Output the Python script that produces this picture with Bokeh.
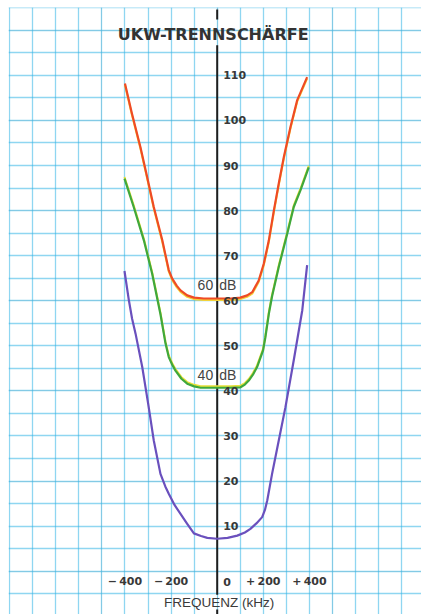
from bokeh.plotting import figure
from bokeh.models import FixedTicker, Grid, Label, ColumnDataSource
from bokeh.transform import dodge
from bokeh.core.properties import value
from bokeh.embed import file_html
from bokeh.resources import INLINE

# ---- data ----
title_text = "UKW-TRENNSCHÄRFE"
x_title = "FREQUENZ (kHz)"

red_khz = [-400, -370, -333, -304, -275, -238, -210, -195, -175, -159, -130, -100, -58, 0,
           60, 100, 130, 152, 180, 202, 224, 246, 267, 289, 318, 347, 390]
red_db = [108.2, 101.6, 94.1, 87.5, 80.8, 73.4, 66.8, 64.9, 63.3, 62.3, 61.2, 60.7, 60.5, 60.5,
          60.5, 60.7, 61.2, 61.9, 64.5, 68.2, 73.4, 80.1, 86.0, 91.9, 98.6, 104.5, 109.6]

green_khz = [-402, -362, -318, -282, -246, -224, -210, -195, -181, -155, -130, -100, -72, 0,
             60, 101, 120, 137, 155, 173, 199, 209, 224, 238, 267, 304, 332, 361, 397]
green_db = [87.1, 80.8, 73.4, 66.0, 57.0, 50.5, 47.5, 45.8, 44.5, 42.7, 41.6, 41.0, 40.7, 40.7,
            40.7, 40.8, 41.4, 42.3, 43.6, 45.3, 49.0, 51.9, 57.1, 61.0, 67.5, 74.9, 80.8, 84.5, 89.6]

blue_khz = [-402, -383, -369, -354, -325, -297, -275, -246, -225, -210, -185, -159, -130, -101,
            -70, -43, 0, 45, 87, 120, 144, 170, 195, 207, 217, 238, 267, 296, 332, 369, 390]
blue_db = [66.6, 60.1, 56.0, 52.7, 45.3, 36.4, 29.0, 21.6, 18.8, 17.2, 14.7, 12.7, 10.5, 8.4,
           7.8, 7.4, 7.2, 7.4, 7.9, 8.6, 9.4, 10.6, 12.0, 13.6, 15.7, 21.6, 29.0, 36.4, 46.8, 57.9, 67.9]

y_ticks = [10, 20, 30, 40, 50, 60, 70, 80, 90, 100, 110]
y_tick_labels = [str(v) for v in y_ticks]
x_ticks = [-400, -200, 200, 400]
x_tick_labels = ["\u2212\u2009400", "\u2212\u2009200", "+\u2009200", "+\u2009400"]
zero_label = "0"
level_values = [60, 40]
level_numbers = ["60", "40"]
level_unit = ["dB", "dB"]

grid_x = list(range(-900, 901, 100))
grid_y = list(range(-5, 126, 5))

# ---- figure ----
p = figure(width=421, height=614, x_range=(-905, 886), y_range=(-9.6, 125.05),
           output_backend="svg", toolbar_location=None, min_border=0,
           min_border_left=8, min_border_top=7,
           x_axis_location=None, y_axis_location=None)
p.outline_line_color = None
p.background_fill_color = "white"
p.border_fill_color = "white"

grid_color = "#33b5e5"
p.add_layout(Grid(dimension=0, ticker=FixedTicker(ticks=grid_x),
                  grid_line_color=grid_color, grid_line_alpha=0.55, grid_line_width=1.3))
p.add_layout(Grid(dimension=1, ticker=FixedTicker(ticks=grid_y),
                  grid_line_color=grid_color, grid_line_alpha=0.55, grid_line_width=1.3))

# central axis line with gaps for title and x-axis caption
p.segment(x0=[0, 0, 0], y0=[124.6, 116.7, -8.5], x1=[0, 0, 0], y1=[122.4, -5.2, -9.6],
          line_color="#1e1e1e", line_width=2)

# curves
red = ColumnDataSource(dict(x=red_khz, y=red_db))
green = ColumnDataSource(dict(x=green_khz, y=green_db))
blue = ColumnDataSource(dict(x=blue_khz, y=blue_db))

p.line(x="x", y=dodge("y", -0.35, range=p.y_range), source=red, line_color="#f3d23a", line_width=2)
p.line(x="x", y="y", source=red, line_color="#ef4b25", line_width=2.2, line_join="round")
p.line(x="x", y=dodge("y", 0.35, range=p.y_range), source=green, line_color="#e8e03a", line_width=2)
p.line(x="x", y="y", source=green, line_color="#3fa83c", line_width=2.2, line_join="round")
p.line(x="x", y="y", source=blue, line_color="#6a50bd", line_width=2.2, line_join="round")

label_font = value("DejaVu Sans")
# y tick labels right of axis
p.text(x=0, y=y_ticks, text=y_tick_labels, x_offset=6, text_align="left", text_baseline="middle",
       text_font=label_font, text_font_style="bold", text_font_size="11px", text_color="#383838")
# x tick labels
p.text(x=x_ticks, y=-2.3, text=x_tick_labels, text_align="center", text_baseline="middle",
       text_font=label_font, text_font_style="bold", text_font_size="11px", text_color="#383838")
p.text(x=0, y=-2.3, text=[zero_label], x_offset=6, text_align="left", text_baseline="middle",
       text_font=label_font, text_font_style="bold", text_font_size="11px", text_color="#383838")

# level labels "60 dB", "40 dB"
lvl_y = [v + 3.6 for v in level_values]
p.text(x=0, y=lvl_y, text=level_numbers, x_offset=-4, text_align="right", text_baseline="middle",
       text_font=value("Liberation Sans"), text_font_size="14px", text_color="#444444")
p.text(x=0, y=lvl_y, text=level_unit, x_offset=2, text_align="left", text_baseline="middle",
       text_font=value("Liberation Sans"), text_font_size="14px", text_color="#444444")

# title and x caption
p.add_layout(Label(x=0, y=119.1, x_offset=-4, text=title_text, text_align="center",
                   text_baseline="middle", text_font="DejaVu Sans", text_font_style="bold",
                   text_font_size="16px", text_color="#333333"))
p.add_layout(Label(x=0, y=-6.9, x_offset=2, text=x_title, text_align="center",
                   text_baseline="middle", text_font="Liberation Sans",
                   text_font_size="13.5px", text_color="#3a3a3a"))

open("out.html", "w").write(file_html(p, INLINE))
